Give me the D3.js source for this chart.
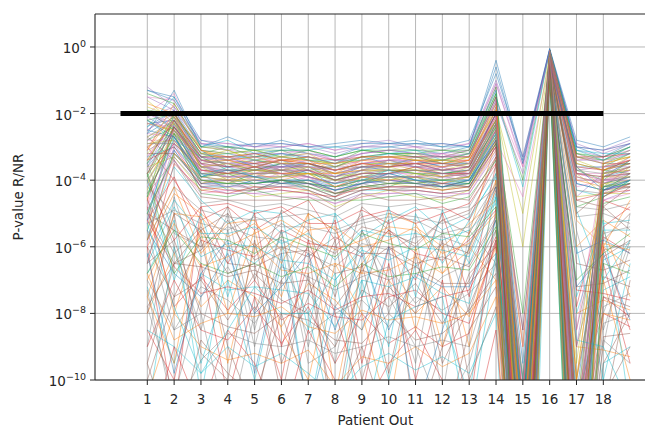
<!DOCTYPE html>
<html><head><meta charset="utf-8">
<script src="https://cdn.jsdelivr.net/npm/d3@7"></script>
<style>body{margin:0;background:#fff}svg{display:block}text{font-family:"DejaVu Sans",sans-serif;fill:#262626}</style>
</head><body><svg id="c" width="645" height="429"></svg>
<script>
const patients = d3.range(1, 20);
const tickPatients = d3.range(1, 19);
const yTickExps = [0, -2, -4, -6, -8, -10];
const threshold = 1e-2;
const thresholdRange = [0, 18];
const colors = ["#1f77b4","#ff7f0e","#2ca02c","#d62728","#9467bd","#8c564b","#e377c2","#7f7f7f","#bcbd22","#17becf"];
// log10 p-values per feature line, one value per left-out patient (1..19)
const topBand = [
[-1.3,-1.6,-2.9,-3.0,-3.1,-3.0,-3.2,-3.3,-3.0,-3.0,-3.1,-3.2,-3.0,-0.4,-3.4,-0.1,-3.0,-3.3,-2.9],
[-2.0,-1.4,-3.1,-3.2,-3.3,-3.2,-3.1,-3.4,-3.2,-3.1,-3.0,-3.3,-3.1,-1.2,-12.0,-0.2,-3.2,-3.5,-3.1],
[-2.2,-2.0,-3.2,-3.4,-3.3,-3.3,-3.4,-3.6,-3.3,-3.2,-3.3,-3.4,-3.2,-1.5,-4.0,-0.1,-14.0,-3.6,-3.2],
[-1.8,-2.1,-3.0,-3.1,-3.4,-3.5,-3.3,-3.5,-3.4,-3.3,-3.2,-3.5,-3.3,-1.8,-15.0,-0.3,-3.4,-3.7,-3.4],
[-2.5,-1.9,-3.3,-3.5,-3.5,-3.4,-3.6,-3.7,-3.5,-3.4,-3.4,-3.6,-3.4,-2.0,-11.0,-0.2,-16.0,-3.8,-3.3],
[-2.3,-2.2,-3.4,-3.3,-3.6,-3.6,-3.5,-3.8,-3.6,-3.5,-3.6,-3.5,-3.5,-2.2,-17.0,-0.4,-3.6,-3.6,-3.5],
[-3.0,-2.0,-3.5,-3.6,-3.4,-3.7,-3.7,-3.9,-3.5,-3.6,-3.5,-3.7,-3.6,-1.6,-3.6,-0.1,-12.0,-3.9,-3.6],
[-2.8,-2.4,-3.3,-3.7,-3.7,-3.5,-3.6,-4.0,-3.7,-3.7,-3.7,-3.8,-3.7,-2.4,-13.5,-0.3,-3.7,-4.0,-3.4],
[-3.2,-2.3,-3.6,-3.5,-3.8,-3.8,-3.8,-3.9,-3.8,-3.6,-3.8,-3.9,-3.6,-2.1,-9.0,-0.2,-18.0,-3.8,-3.7],
[-2.1,-2.6,-3.7,-3.8,-3.6,-3.7,-3.9,-4.1,-3.9,-3.8,-3.7,-3.8,-3.8,-2.6,-18.5,-0.5,-3.9,-4.1,-3.8],
[-3.5,-2.5,-3.8,-3.9,-3.9,-3.9,-3.7,-4.2,-4.0,-3.9,-3.9,-4.0,-3.9,-2.3,-12.5,-0.2,-10.5,-4.2,-3.9],
[-2.6,-2.7,-3.5,-4.0,-4.0,-3.8,-4.0,-4.3,-3.9,-4.0,-4.0,-4.1,-3.8,-2.8,-4.5,-0.4,-4.0,-4.0,-4.0],
[-3.8,-2.2,-3.9,-3.8,-4.1,-4.0,-4.1,-4.2,-4.1,-3.9,-4.1,-4.2,-4.0,-2.5,-16.0,-0.3,-13.0,-4.3,-3.8],
[-2.9,-2.8,-4.0,-4.1,-3.9,-4.1,-4.0,-4.4,-4.2,-4.1,-4.0,-4.3,-4.1,-2.9,-10.0,-0.6,-3.8,-4.4,-4.1],
[-4.0,-2.9,-4.1,-4.2,-4.2,-4.2,-4.2,-4.5,-4.0,-4.2,-4.2,-4.1,-4.2,-3.0,-14.0,-0.2,-15.5,-4.2,-4.2],
[-3.3,-3.0,-3.8,-4.3,-4.3,-4.0,-4.3,-4.6,-4.3,-4.3,-4.3,-4.4,-4.3,-2.7,-20.0,-0.5,-4.3,-4.5,-4.0],
[-1.2,-1.8,-2.8,-2.9,-3.0,-2.9,-3.0,-3.2,-3.0,-2.9,-3.0,-3.1,-2.9,-1.0,-3.3,-0.08,-2.9,-3.2,-2.9],
[-2.4,-1.5,-3.0,-2.8,-3.2,-3.1,-3.1,-3.0,-3.1,-3.0,-2.9,-3.0,-3.0,-1.3,-11.5,-0.1,-3.1,-3.4,-3.0],
[-4.2,-3.1,-4.2,-4.4,-4.4,-4.3,-4.4,-4.7,-4.4,-4.4,-4.4,-4.5,-4.4,-3.2,-8.5,-0.4,-11.5,-4.6,-4.3],
[-3.6,-3.3,-4.3,-4.2,-4.5,-4.4,-4.3,-4.8,-4.5,-4.3,-4.5,-4.6,-4.3,-3.1,-19.0,-0.6,-4.5,-4.4,-4.4],
[-4.5,-2.6,-4.4,-4.5,-4.3,-4.5,-4.6,-4.6,-4.6,-4.5,-4.4,-4.7,-4.5,-3.4,-13.0,-0.3,-17.0,-4.7,-4.5],
[-2.7,-3.4,-4.5,-4.6,-4.6,-4.6,-4.5,-4.9,-4.4,-4.6,-4.6,-4.5,-4.6,-3.3,-15.5,-0.7,-4.6,-4.8,-4.2],
[-1.6,-2.3,-3.2,-3.2,-3.1,-3.3,-3.2,-3.6,-3.3,-3.3,-3.4,-3.4,-3.3,-1.9,-5.0,-0.2,-9.5,-3.5,-3.3],
[-3.1,-1.7,-3.1,-3.3,-3.5,-3.4,-3.5,-3.8,-3.4,-3.5,-3.5,-3.6,-3.4,-2.2,-12.0,-0.3,-3.5,-3.7,-3.5],
[-2.0,-2.4,-3.4,-3.6,-3.7,-3.6,-3.4,-3.9,-3.7,-3.4,-3.6,-3.7,-3.7,-2.0,-16.5,-0.1,-12.5,-3.9,-3.6],
[-4.8,-2.8,-3.7,-3.9,-3.8,-3.8,-3.9,-4.1,-3.8,-3.7,-3.9,-3.9,-3.8,-2.6,-9.5,-0.4,-3.9,-4.1,-3.7],
[-3.4,-2.1,-3.6,-4.0,-4.0,-3.9,-3.8,-4.2,-4.0,-4.0,-3.8,-4.0,-3.9,-2.4,-14.5,-0.2,-19.0,-3.9,-3.9],
[-2.2,-2.7,-3.9,-3.7,-3.9,-4.1,-4.0,-4.3,-4.1,-3.8,-4.0,-4.2,-4.0,-2.8,-11.0,-0.5,-3.6,-4.3,-4.0],
[-5.0,-3.2,-4.0,-4.1,-4.1,-4.0,-4.2,-4.4,-4.2,-4.1,-4.1,-4.0,-4.1,-2.9,-17.5,-0.3,-14.5,-4.2,-4.1],
[-2.5,-2.0,-3.3,-3.4,-3.2,-3.2,-3.3,-3.5,-3.2,-3.1,-3.2,-3.3,-3.2,-1.7,-3.8,-0.1,-3.4,-3.4,-3.2],
[-3.7,-2.5,-3.4,-3.5,-3.3,-3.5,-3.6,-3.7,-3.4,-3.3,-3.5,-3.2,-3.5,-2.1,-10.5,-0.3,-8.5,-3.6,-3.4],
[-2.9,-2.9,-3.6,-3.7,-3.6,-3.4,-3.7,-3.6,-3.6,-3.6,-3.3,-3.5,-3.6,-2.3,-13.0,-0.2,-3.7,-3.8,-3.6]
];
const topBand2 = [
[-4.5,-2.0,-3.2,-3.0,-3.3,-3.1,-3.4,-3.5,-3.1,-3.2,-3.2,-3.3,-3.1,-1.4,-12.5,-0.2,-3.3,-3.4,-3.0],
[-5.5,-2.2,-3.3,-3.3,-3.2,-3.4,-3.3,-3.6,-3.4,-3.3,-3.3,-3.5,-3.3,-1.9,-6.0,-0.3,-13.5,-3.7,-3.3],
[-3.0,-2.6,-3.5,-3.4,-3.5,-3.3,-3.5,-3.7,-3.5,-3.4,-3.5,-3.4,-3.4,-2.3,-14.0,-0.4,-4.5,-3.8,-3.5],
[-2.4,-1.9,-3.1,-3.6,-3.4,-3.6,-3.6,-3.6,-3.3,-3.5,-3.4,-3.6,-3.5,-2.0,-17.0,-0.1,-11.0,-3.9,-3.4],
[-6.0,-2.4,-3.7,-3.7,-3.8,-3.5,-3.7,-3.9,-3.6,-3.6,-3.6,-3.7,-3.6,-2.5,-10.0,-0.2,-3.8,-4.0,-3.7],
[-1.9,-2.5,-3.4,-3.5,-3.7,-3.7,-3.8,-4.0,-3.8,-3.7,-3.8,-3.8,-3.7,-2.2,-15.5,-0.3,-16.5,-3.7,-3.8],
[-4.0,-2.7,-3.8,-3.8,-3.6,-3.9,-3.6,-3.8,-3.9,-3.8,-3.6,-3.9,-3.8,-2.7,-11.5,-0.5,-3.6,-4.2,-3.6],
[-3.6,-2.1,-3.5,-3.9,-3.9,-3.6,-3.9,-4.1,-3.7,-3.9,-3.9,-3.6,-3.9,-1.8,-18.0,-0.1,-9.0,-4.1,-3.9],
[-5.2,-2.3,-3.9,-4.0,-4.1,-4.0,-4.0,-4.2,-4.0,-3.8,-4.0,-4.1,-4.0,-2.4,-13.0,-0.4,-4.1,-4.3,-4.1],
[-2.8,-2.8,-3.6,-3.7,-4.0,-4.1,-3.9,-4.4,-4.1,-4.0,-4.1,-4.0,-3.7,-3.0,-20.0,-0.6,-18.0,-4.4,-3.8],
[-3.9,-2.4,-4.0,-4.1,-3.8,-3.8,-4.1,-4.3,-4.2,-4.2,-3.9,-4.2,-4.1,-2.6,-8.0,-0.3,-4.8,-4.5,-4.0],
[-4.3,-2.6,-4.1,-3.9,-4.2,-4.2,-4.2,-4.5,-3.9,-4.1,-4.2,-4.3,-4.2,-2.8,-12.0,-0.2,-12.0,-4.1,-4.2],
[-1.5,-1.9,-2.9,-3.1,-2.9,-3.0,-2.9,-3.1,-2.9,-2.8,-3.0,-2.9,-3.0,-1.1,-3.5,-0.1,-3.0,-3.1,-2.8],
[-2.6,-1.3,-3.0,-2.7,-3.0,-2.8,-3.0,-2.9,-2.8,-2.9,-2.8,-3.0,-2.8,-0.8,-3.3,-0.05,-2.8,-3.0,-2.7],
[-3.3,-2.2,-3.2,-3.3,-3.4,-3.3,-3.2,-3.4,-3.5,-3.4,-3.3,-3.2,-3.3,-1.6,-11.0,-0.2,-3.4,-3.3,-3.1],
[-2.3,-2.5,-3.4,-3.4,-3.3,-3.5,-3.5,-3.5,-3.3,-3.3,-3.4,-3.5,-3.4,-1.9,-14.5,-0.1,-15.0,-3.6,-3.4],
[-4.7,-2.9,-3.6,-3.5,-3.6,-3.6,-3.6,-3.8,-3.6,-3.5,-3.6,-3.6,-3.5,-2.1,-9.0,-0.3,-3.8,-3.8,-3.7],
[-3.1,-2.0,-3.7,-3.8,-3.7,-3.8,-3.8,-3.8,-3.7,-3.7,-3.7,-3.9,-3.7,-2.3,-16.0,-0.2,-10.0,-3.9,-3.6],
[-2.0,-2.3,-3.8,-3.9,-3.9,-3.9,-3.9,-4.2,-3.9,-3.9,-3.9,-3.8,-3.9,-2.5,-12.5,-0.4,-4.2,-4.0,-3.9],
[-5.8,-3.1,-4.2,-4.2,-4.0,-4.1,-4.1,-4.3,-4.1,-4.0,-4.1,-4.2,-4.1,-2.7,-19.5,-0.3,-17.5,-4.3,-4.0],
[-3.4,-3.0,-4.2,-4.3,-4.3,-4.2,-4.3,-4.6,-4.3,-4.2,-4.2,-4.3,-4.2,-2.9,-10.5,-0.5,-4.6,-4.4,-4.3],
[-4.9,-3.4,-4.4,-4.3,-4.4,-4.5,-4.5,-4.7,-4.5,-4.4,-4.3,-4.4,-4.4,-3.1,-15.0,-0.6,-13.0,-4.6,-4.4],
[-2.2,-2.8,-3.3,-3.2,-3.4,-3.2,-3.4,-3.4,-3.4,-3.2,-3.1,-3.4,-3.2,-1.5,-4.2,-0.1,-3.1,-3.2,-3.2],
[-1.4,-1.7,-3.0,-3.0,-3.1,-3.1,-3.1,-3.3,-3.1,-3.1,-3.1,-3.1,-3.1,-1.2,-11.0,-0.1,-3.2,-3.3,-3.0],
[-3.8,-2.4,-3.5,-3.6,-3.5,-3.7,-3.5,-3.7,-3.6,-3.6,-3.5,-3.7,-3.6,-2.0,-13.5,-0.2,-11.5,-3.5,-3.5],
[-2.7,-2.2,-3.6,-3.8,-3.8,-3.7,-3.7,-4.0,-3.8,-3.8,-3.7,-3.7,-3.8,-2.2,-17.5,-0.3,-3.8,-3.9,-3.8],
[-5.0,-2.7,-3.9,-3.6,-3.9,-4.0,-4.0,-4.1,-4.0,-3.7,-4.0,-4.0,-4.0,-2.6,-9.5,-0.4,-16.0,-4.2,-4.0],
[-1.7,-2.0,-3.1,-3.4,-3.6,-3.4,-3.4,-3.7,-3.5,-3.6,-3.4,-3.4,-3.4,-1.7,-12.0,-0.1,-3.3,-3.5,-3.3],
[-6.5,-3.5,-4.3,-4.4,-4.2,-4.3,-4.4,-4.5,-4.2,-4.3,-4.3,-4.4,-4.3,-3.0,-16.5,-0.5,-14.0,-4.5,-4.1],
[-3.2,-3.2,-4.1,-4.0,-4.3,-4.0,-4.1,-4.4,-4.3,-4.2,-4.2,-4.1,-4.2,-2.8,-8.5,-0.3,-5.0,-4.3,-4.2]
];
const topBand3 = [
[-2.1,-1.8,-3.0,-3.1,-3.2,-3.1,-3.2,-3.4,-3.2,-3.1,-3.2,-3.2,-3.1,-1.3,-12.0,-0.1,-3.1,-3.3,-3.0],
[-2.6,-2.1,-3.2,-3.3,-3.3,-3.2,-3.3,-3.5,-3.3,-3.2,-3.3,-3.3,-3.3,-1.6,-15.0,-0.2,-3.3,-3.5,-3.2],
[-3.3,-2.3,-3.3,-3.4,-3.5,-3.4,-3.4,-3.6,-3.4,-3.4,-3.4,-3.5,-3.4,-1.8,-10.5,-0.3,-13.0,-3.6,-3.4],
[-1.9,-2.0,-3.4,-3.5,-3.4,-3.5,-3.5,-3.7,-3.5,-3.5,-3.5,-3.4,-3.5,-2.0,-17.0,-0.1,-3.5,-3.7,-3.5],
[-4.1,-2.5,-3.5,-3.4,-3.6,-3.6,-3.7,-3.8,-3.6,-3.4,-3.6,-3.6,-3.5,-2.2,-13.0,-0.3,-11.0,-3.8,-3.6],
[-2.8,-2.2,-3.6,-3.6,-3.5,-3.6,-3.6,-3.9,-3.7,-3.6,-3.5,-3.7,-3.6,-1.9,-11.5,-0.2,-3.7,-3.6,-3.6],
[-3.6,-2.6,-3.7,-3.7,-3.7,-3.5,-3.8,-3.9,-3.6,-3.7,-3.7,-3.8,-3.7,-2.4,-16.0,-0.4,-15.0,-3.9,-3.7],
[-2.3,-2.4,-3.5,-3.8,-3.8,-3.7,-3.7,-4.0,-3.8,-3.8,-3.8,-3.6,-3.8,-2.1,-14.0,-0.2,-3.8,-4.0,-3.8],
[-4.4,-2.8,-3.8,-3.9,-3.7,-3.8,-3.9,-4.1,-3.9,-3.7,-3.8,-3.9,-3.8,-2.6,-18.0,-0.4,-12.0,-4.1,-3.9],
[-3.0,-2.5,-3.9,-3.8,-3.9,-3.9,-3.8,-4.0,-4.0,-3.9,-3.9,-4.0,-3.9,-2.3,-12.5,-0.3,-3.9,-4.1,-4.0],
[-5.3,-3.0,-4.0,-4.0,-4.0,-4.1,-4.0,-4.3,-4.1,-4.0,-4.1,-3.9,-4.0,-2.8,-19.0,-0.5,-16.0,-4.2,-4.0],
[-2.5,-2.7,-4.1,-4.1,-4.1,-4.0,-4.1,-4.2,-4.0,-4.1,-4.0,-4.1,-4.1,-2.5,-10.0,-0.3,-4.1,-4.3,-4.1],
[-1.5,-1.6,-2.9,-2.9,-3.0,-3.0,-2.9,-3.1,-3.0,-3.0,-2.9,-3.0,-2.9,-1.1,-3.6,-0.1,-12.5,-3.1,-2.9],
[-3.5,-2.0,-3.1,-3.2,-3.1,-3.3,-3.1,-3.3,-3.1,-3.2,-3.2,-3.1,-3.2,-1.4,-13.5,-0.1,-3.2,-3.4,-3.1],
[-2.2,-2.6,-3.3,-3.1,-3.4,-3.3,-3.4,-3.5,-3.4,-3.3,-3.4,-3.4,-3.2,-1.7,-11.0,-0.2,-14.0,-3.4,-3.3],
[-4.6,-2.4,-3.4,-3.6,-3.6,-3.4,-3.5,-3.7,-3.5,-3.6,-3.5,-3.5,-3.6,-2.0,-15.5,-0.3,-3.6,-3.7,-3.4],
[-2.7,-2.3,-3.6,-3.5,-3.7,-3.7,-3.6,-3.8,-3.7,-3.5,-3.7,-3.7,-3.5,-2.2,-12.0,-0.2,-10.0,-3.8,-3.7],
[-3.8,-2.9,-3.7,-3.8,-3.6,-3.8,-3.7,-4.0,-3.8,-3.8,-3.6,-3.8,-3.8,-2.5,-17.5,-0.4,-3.8,-3.9,-3.8],
[-2.0,-2.1,-3.8,-3.7,-3.9,-3.7,-3.9,-4.1,-3.9,-3.9,-3.9,-3.8,-3.9,-2.3,-13.0,-0.3,-17.0,-4.0,-3.9],
[-5.8,-3.2,-3.9,-4.0,-3.8,-4.0,-3.8,-4.2,-3.9,-4.0,-3.9,-4.1,-3.9,-2.7,-14.5,-0.5,-4.0,-4.2,-4.0],
[-3.1,-2.7,-4.0,-4.2,-4.1,-4.2,-4.1,-4.4,-4.2,-4.1,-4.1,-4.2,-4.0,-2.9,-20.0,-0.4,-13.5,-4.3,-4.1],
[-4.9,-3.3,-4.2,-4.1,-4.3,-4.1,-4.2,-4.5,-4.1,-4.3,-4.2,-4.2,-4.2,-3.0,-11.5,-0.6,-4.3,-4.4,-4.2],
[-1.3,-1.5,-2.8,-3.0,-2.9,-2.9,-3.0,-3.0,-2.9,-2.9,-2.9,-2.9,-3.0,-0.6,-3.5,-0.05,-3.0,-3.1,-2.9],
[-3.4,-2.2,-3.3,-3.3,-3.2,-3.4,-3.3,-3.4,-3.3,-3.3,-3.3,-3.3,-3.3,-1.5,-16.5,-0.2,-3.3,-3.3,-3.2]
];
const midBand = [
[-3.0,-4.0,-5.2,-4.8,-5.5,-5.0,-4.6,-5.8,-5.1,-4.9,-5.3,-5.0,-4.7,-3.5,-12.0,-0.4,-7.8,-4.6,-4.9],
[-5.5,-3.6,-4.6,-5.3,-4.9,-5.6,-5.2,-5.0,-5.7,-5.2,-4.8,-5.5,-5.1,-3.9,-16.0,-0.6,-14.0,-5.3,-5.2],
[-4.2,-5.0,-5.5,-5.0,-6.0,-5.3,-5.8,-6.2,-5.4,-5.6,-5.9,-5.2,-5.6,-4.2,-13.0,-0.5,-9.0,-5.8,-5.0],
[-6.0,-4.4,-5.0,-5.7,-5.3,-6.1,-5.5,-5.4,-6.0,-5.8,-5.4,-6.0,-5.3,-4.6,-18.0,-0.4,-6.0,-5.2,-5.7],
[-3.5,-5.6,-6.0,-5.4,-5.7,-5.8,-6.2,-6.6,-5.9,-6.1,-5.7,-5.7,-6.0,-3.8,-11.0,-0.7,-16.5,-6.1,-5.9],
[-5.2,-3.9,-5.8,-6.1,-6.3,-5.5,-5.9,-6.0,-6.3,-5.5,-6.2,-6.4,-5.8,-4.9,-20.0,-0.5,-11.0,-5.7,-6.2],
[-6.5,-4.8,-6.3,-5.9,-6.0,-6.4,-6.5,-7.0,-6.1,-6.4,-6.0,-6.1,-6.3,-4.4,-14.5,-0.6,-19.0,-6.4,-6.0],
[-4.6,-6.2,-5.4,-6.5,-6.6,-6.2,-6.1,-6.8,-6.6,-6.0,-6.5,-6.3,-6.6,-5.2,-10.5,-0.4,-6.5,-6.7,-6.4],
[-7.0,-5.3,-6.6,-6.3,-5.9,-6.7,-6.8,-6.5,-6.8,-6.7,-6.3,-6.8,-6.1,-4.0,-17.0,-0.7,-13.5,-6.0,-6.6],
[-5.8,-4.2,-4.9,-5.1,-5.2,-5.1,-5.0,-5.5,-5.2,-5.0,-5.1,-5.3,-5.0,-3.6,-12.5,-0.3,-5.1,-5.0,-5.3],
[-4.0,-5.8,-4.8,-4.7,-5.0,-4.8,-5.3,-5.3,-4.9,-5.3,-4.9,-4.8,-5.2,-3.3,-15.0,-0.4,-17.0,-5.4,-4.8],
[-6.3,-4.6,-5.6,-5.6,-5.4,-5.9,-5.6,-6.4,-5.5,-5.7,-5.6,-5.8,-5.5,-4.7,-19.0,-0.5,-8.0,-5.5,-5.5],
[-5.0,-6.5,-6.1,-5.2,-6.4,-6.0,-6.3,-5.7,-6.2,-6.2,-6.6,-5.9,-6.2,-4.3,-11.5,-0.6,-12.0,-6.3,-5.8],
[-7.5,-5.0,-5.1,-6.0,-5.6,-5.2,-5.7,-6.1,-5.8,-5.4,-5.5,-6.2,-5.9,-5.0,-21.0,-0.7,-15.5,-5.9,-6.1],
[-4.4,-3.4,-4.7,-4.6,-4.8,-4.7,-4.9,-5.1,-4.7,-4.8,-4.7,-4.9,-4.8,-3.4,-13.5,-0.3,-4.8,-4.9,-4.7],
[-6.8,-5.5,-6.5,-6.8,-6.5,-6.9,-6.6,-7.2,-6.5,-6.9,-6.8,-6.6,-6.7,-5.4,-16.5,-0.8,-20.0,-6.5,-6.8],
[-5.3,-4.9,-5.3,-5.5,-5.1,-5.4,-5.4,-5.6,-5.3,-5.1,-5.2,-5.6,-5.4,-4.1,-10.0,-0.5,-10.0,-5.6,-5.4],
[-3.8,-6.8,-5.7,-5.8,-6.2,-5.7,-6.0,-6.3,-5.6,-5.9,-6.1,-5.6,-5.7,-4.8,-22.0,-0.6,-7.0,-6.2,-5.6]
];
const lowBand = [
[-6.0,-7.5,-7.0,-8.2,-6.8,-7.6,-8.0,-9.0,-7.3,-7.8,-7.1,-8.3,-7.0,-5.5,-14.0,-0.5,-11.0,-6.9,-7.2],
[-8.0,-6.2,-7.8,-7.0,-7.5,-8.4,-7.1,-7.6,-8.5,-7.0,-8.0,-7.2,-8.1,-6.0,-18.0,-0.6,-8.0,-7.6,-7.9],
[-5.5,-8.5,-7.2,-7.6,-8.3,-7.0,-8.6,-8.0,-7.6,-8.4,-7.5,-7.9,-7.4,-6.5,-11.5,-0.4,-16.0,-8.3,-8.0],
[-9.0,-7.0,-8.5,-8.8,-7.8,-8.9,-7.8,-9.5,-8.0,-8.9,-8.4,-9.0,-8.6,-5.8,-20.0,-0.7,-13.0,-8.0,-8.4],
[-7.2,-9.5,-6.8,-7.3,-7.2,-7.3,-7.4,-8.4,-7.0,-7.2,-6.9,-7.4,-7.7,-4.5,-12.0,-0.5,-10.8,-7.3,-6.9],
[-6.5,-5.8,-8.0,-8.4,-8.6,-8.0,-8.2,-8.8,-8.9,-8.0,-8.8,-8.6,-7.9,-6.8,-16.0,-0.6,-18.0,-8.7,-8.6],
[-10.5,-8.0,-9.0,-9.4,-9.2,-9.5,-9.1,-10.2,-9.3,-9.5,-9.0,-9.6,-9.2,-7.5,-23.0,-0.8,-9.0,-9.1,-9.3],
[-7.8,-10.5,-7.5,-6.6,-7.9,-6.6,-6.9,-7.3,-6.9,-6.6,-7.7,-6.9,-6.5,-5.1,-10.8,-0.4,-14.5,-7.8,-7.4],
[-4.8,-7.8,-6.9,-7.9,-7.0,-8.2,-7.7,-8.1,-8.2,-7.5,-7.3,-8.0,-8.3,-5.9,-15.0,-0.6,-11.5,-7.5,-8.1],
[-8.5,-9.0,-9.8,-9.0,-9.6,-9.2,-9.8,-10.5,-9.6,-9.2,-9.7,-9.3,-9.8,-8.0,-25.0,-0.8,-20.0,-9.5,-9.0],
[-9.5,-6.5,-6.6,-6.9,-6.7,-7.1,-7.0,-7.8,-6.7,-7.0,-6.6,-7.1,-7.1,-6.2,-13.0,-0.5,-7.2,-7.1,-6.7],
[-6.8,-8.8,-8.3,-8.0,-8.1,-7.8,-8.4,-8.6,-7.9,-8.2,-8.1,-8.3,-8.0,-7.0,-17.5,-0.6,-15.0,-8.0,-8.2],
[-7.3,-11.0,-9.4,-8.6,-8.9,-9.0,-8.8,-9.2,-9.0,-8.7,-9.0,-8.8,-9.0,-6.3,-19.0,-0.7,-12.5,-8.8,-9.5],
[-5.2,-6.6,-7.4,-7.2,-7.4,-7.7,-7.3,-7.9,-7.5,-7.4,-7.8,-7.5,-7.3,-5.7,-12.5,-0.5,-7.3,-7.4,-7.6]
];
const scatterBand = [
[-4.5,-8.0,-5.5,-9.5,-6.0,-7.5,-5.0,-10.5,-6.5,-5.5,-8.5,-6.0,-9.0,-4.0,-14.0,-0.4,-10.0,-5.5,-7.5],
[-9.0,-4.5,-7.0,-5.0,-8.5,-5.5,-9.0,-6.0,-5.0,-8.0,-5.5,-10.5,-5.5,-6.5,-11.0,-0.6,-15.0,-9.0,-5.0],
[-6.0,-11.0,-4.8,-6.5,-5.0,-9.0,-6.5,-5.2,-9.5,-6.0,-7.0,-5.0,-7.5,-3.5,-17.0,-0.3,-11.5,-6.5,-9.5],
[-11.0,-6.0,-9.5,-7.0,-10.0,-6.5,-8.0,-11.5,-7.0,-10.0,-6.5,-8.0,-10.5,-5.0,-12.5,-0.7,-6.0,-10.0,-6.5],
[-5.0,-5.5,-6.0,-4.8,-7.0,-4.9,-5.5,-7.5,-4.8,-5.5,-6.0,-5.2,-4.9,-4.2,-10.5,-0.4,-8.5,-4.8,-5.5],
[-7.5,-9.5,-5.2,-8.0,-5.5,-8.5,-10.0,-6.5,-8.0,-11.0,-6.0,-9.0,-6.0,-7.0,-19.0,-0.6,-17.0,-7.0,-10.0],
[-3.8,-6.0,-8.5,-5.5,-9.0,-6.0,-7.0,-9.5,-5.5,-7.0,-9.5,-5.5,-8.0,-5.5,-13.0,-0.5,-5.5,-8.5,-6.0],
[-8.5,-10.0,-6.5,-10.5,-7.5,-10.0,-5.8,-8.0,-10.5,-6.5,-10.0,-7.0,-11.0,-4.8,-16.0,-0.7,-12.0,-6.0,-8.5],
[-6.8,-5.2,-10.5,-6.0,-6.5,-5.8,-11.0,-7.0,-6.0,-9.0,-5.0,-6.5,-5.2,-3.8,-11.5,-0.3,-7.5,-5.2,-11.0],
[-10.0,-7.5,-5.8,-9.0,-11.0,-7.0,-6.0,-12.0,-7.5,-5.2,-11.5,-9.0,-6.8,-6.0,-22.0,-0.8,-19.0,-11.0,-7.0],
[-5.8,-4.2,-6.2,-5.3,-5.2,-6.5,-5.0,-5.5,-6.8,-5.0,-5.3,-6.8,-5.6,-2.8,-9.0,-0.3,-5.2,-6.0,-4.6],
[-7.0,-8.5,-8.0,-11.5,-8.0,-5.5,-9.5,-9.0,-5.5,-7.5,-9.0,-11.0,-9.5,-6.5,-15.0,-0.6,-10.5,-8.0,-5.8],
[-12.0,-9.0,-11.0,-8.5,-9.5,-11.5,-8.5,-10.0,-11.0,-9.5,-8.5,-10.0,-12.0,-8.5,-18.0,-0.7,-14.0,-12.0,-10.5],
[-4.0,-7.0,-5.0,-7.5,-4.9,-5.0,-8.5,-5.0,-7.5,-4.8,-7.5,-4.9,-6.5,-4.5,-10.0,-0.4,-4.9,-7.0,-5.8],
[-9.5,-12.0,-8.8,-9.8,-10.5,-8.0,-10.5,-10.8,-9.0,-11.5,-10.0,-11.8,-8.5,-7.2,-20.0,-0.7,-16.0,-9.5,-8.0],
[-5.5,-6.8,-7.5,-6.2,-8.0,-7.2,-6.2,-8.5,-6.2,-8.5,-6.8,-7.2,-7.2,-5.2,-12.0,-0.5,-7.2,-6.2,-8.2],
[-8.0,-5.0,-9.2,-10.0,-5.8,-9.5,-7.5,-5.8,-10.0,-7.2,-8.0,-5.8,-10.0,-7.8,-14.5,-0.6,-13.5,-10.5,-9.0],
[-6.2,-9.8,-6.8,-5.8,-9.8,-6.2,-11.0,-7.8,-8.5,-6.0,-11.0,-8.5,-6.0,-4.2,-11.0,-0.4,-6.2,-5.8,-6.2],
[-7.8,-6.5,-5.5,-6.8,-6.5,-10.5,-6.8,-11.2,-6.5,-9.8,-6.2,-9.5,-7.8,-5.8,-16.5,-0.5,-18.5,-7.5,-7.8],
[-5.3,-7.8,-9.8,-8.5,-7.2,-8.0,-8.0,-6.8,-11.5,-8.2,-7.8,-7.5,-11.5,-6.2,-13.5,-0.6,-8.8,-9.0,-10.8]
];

const svg = d3.select("#c");
const L = 95, T = 14, B = 380;
const x = d3.scaleLinear().domain([-0.95, 19.95]).range([L, L + 20.9 * 26.824]);
const y = d3.scaleLog().domain([1e-10, Math.pow(10, 0.99)]).range([B, T]);
const R = x.range()[1];

svg.append("defs").append("clipPath").attr("id", "clip")
  .append("rect").attr("x", L).attr("y", T).attr("width", R - L).attr("height", B - T);

// grid
const grid = svg.append("g").attr("stroke", "#b0b0b0").attr("stroke-width", 0.9);
grid.selectAll("line.v").data(tickPatients).join("line")
  .attr("x1", d => x(d)).attr("x2", d => x(d)).attr("y1", T).attr("y2", B);
grid.selectAll("line.h").data(yTickExps).join("line")
  .attr("x1", L).attr("x2", R).attr("y1", d => y(Math.pow(10, d))).attr("y2", d => y(Math.pow(10, d)));

// interleave groups so the colour cycle mixes across levels
const groups = [topBand, scatterBand, topBand2, midBand, topBand3, lowBand];
const allSeries = [];
const n = d3.max(groups, g => g.length);
for (let i = 0; i < n; i++) groups.forEach(g => { if (i < g.length) allSeries.push(g[i]); });

const line = d3.line().x((d, i) => x(patients[i])).y(d => y(Math.pow(10, d)));
svg.append("g").attr("clip-path", "url(#clip)")
  .selectAll("path").data(allSeries).join("path")
  .attr("d", line).attr("fill", "none")
  .attr("stroke", (d, i) => colors[i % 10])
  .attr("stroke-width", 0.7).attr("stroke-opacity", 0.65);

// threshold
svg.append("line").attr("x1", x(thresholdRange[0])).attr("x2", x(thresholdRange[1]))
  .attr("y1", y(threshold)).attr("y2", y(threshold))
  .attr("stroke", "#000").attr("stroke-width", 5);

// spines
const sp = svg.append("g").attr("stroke", "#262626").attr("stroke-width", 1.1);
sp.append("line").attr("x1", L).attr("x2", L).attr("y1", T).attr("y2", B);
sp.append("line").attr("x1", L).attr("x2", R).attr("y1", B).attr("y2", B);
sp.append("line").attr("x1", L).attr("x2", R).attr("y1", T).attr("y2", T);

// x ticks
const xt = svg.append("g");
xt.selectAll("line").data(tickPatients).join("line")
  .attr("x1", d => x(d)).attr("x2", d => x(d)).attr("y1", B).attr("y2", B + 5)
  .attr("stroke", "#262626").attr("stroke-width", 1);
xt.selectAll("text").data(tickPatients).join("text")
  .attr("x", d => x(d)).attr("y", B + 24).attr("text-anchor", "middle")
  .attr("font-size", 13.5).text(d => d);

// y ticks
const yt = svg.append("g");
yt.selectAll("line").data(yTickExps).join("line")
  .attr("x1", L - 5).attr("x2", L).attr("y1", d => y(Math.pow(10, d))).attr("y2", d => y(Math.pow(10, d)))
  .attr("stroke", "#262626").attr("stroke-width", 1);
yt.selectAll("text").data(yTickExps).join("text")
  .attr("x", L - 9).attr("y", d => y(Math.pow(10, d)) + 6).attr("text-anchor", "end")
  .attr("font-size", 13.5)
  .each(function(d) {
    const t = d3.select(this);
    t.append("tspan").text("10");
    t.append("tspan").attr("dy", -6).attr("font-size", 9.5).text(d === 0 ? "0" : "\u2212" + (-d));
  });

// axis labels
svg.append("text").attr("x", (L + R) / 2).attr("y", 425).attr("text-anchor", "middle")
  .attr("font-size", 13.5).text("Patient Out");
svg.append("text").attr("transform", `translate(23,${(T + B) / 2}) rotate(-90)`)
  .attr("text-anchor", "middle").attr("font-size", 13.5).text("P-value R/NR");
</script></body></html>
